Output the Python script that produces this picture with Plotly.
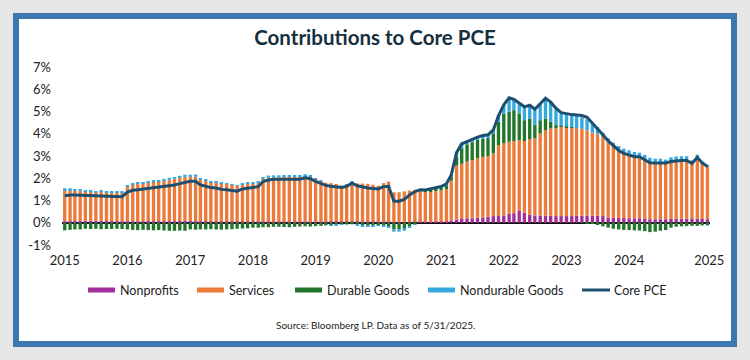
import pandas as pd
import plotly.graph_objects as go

months = pd.date_range(start="2015-01-01", periods=124, freq="MS")

nonprofits = [
    .06,.07,.07,.08,.09,.09,.09,.08,.08,.07,.06,.06,
    .06,.06,.05,.06,.07,.06,.06,.06,.06,.06,.08,.08,
    .07,.06,.06,.06,.05,.05,.05,.05,.05,.05,.05,.05,
    .05,.05,.05,.05,.04,.04,.04,.04,.04,.04,.04,.04,
    .04,.04,.04,.05,.05,.05,.05,.05,.05,.04,.04,.04,
    .04,.04,.04,.03,.03,.03,.03,.04,.04,.04,.04,.05,
    .05,.06,.10,.15,.20,.20,.20,.22,.22,.28,.30,.30,
    .32,.40,.43,.55,.45,.36,.33,.32,.32,.31,.30,.30,
    .30,.30,.31,.32,.32,.31,.31,.30,.24,.22,.21,.21,
    .20,.20,.20,.17,.16,.16,.16,.16,.17,.17,.18,.18,
    .17,.18,.17,.16,
]
services = [
    1.41,1.40,1.37,1.35,1.32,1.31,1.29,1.32,1.30,1.30,1.31,1.31,
    1.58,1.68,1.71,1.72,1.74,1.78,1.81,1.83,1.87,1.91,1.93,1.98,
    1.99,2.01,1.88,1.83,1.78,1.78,1.73,1.71,1.66,1.61,1.69,1.71,
    1.70,1.74,1.92,1.97,1.99,2.00,2.02,2.03,2.02,2.02,2.06,2.06,
    1.95,1.85,1.76,1.73,1.69,1.63,1.66,1.78,1.72,1.72,1.71,1.67,
    1.62,1.74,1.81,1.34,1.34,1.38,1.42,1.44,1.41,1.35,1.37,1.37,
    1.40,1.45,1.80,2.42,2.45,2.55,2.62,2.68,2.74,2.72,2.82,3.19,
    3.25,3.24,3.24,3.17,3.22,3.40,3.46,3.69,3.84,3.93,3.94,4.01,
    4.00,3.98,3.94,3.90,3.83,3.74,3.67,3.55,3.38,3.20,3.04,2.94,
    2.86,2.78,2.75,2.68,2.54,2.52,2.52,2.50,2.57,2.61,2.61,2.61,
    2.51,2.70,2.51,2.36,
]
durable_goods = [
    -.34,-.32,-.30,-.30,-.27,-.28,-.27,-.29,-.28,-.28,-.27,-.28,
    -.30,-.32,-.33,-.32,-.33,-.34,-.33,-.35,-.36,-.36,-.35,-.36,
    -.30,-.31,-.30,-.30,-.29,-.30,-.31,-.30,-.29,-.27,-.26,-.25,
    -.22,-.22,-.20,-.20,-.18,-.18,-.19,-.20,-.18,-.17,-.16,-.17,
    -.15,-.14,-.12,-.12,-.10,-.09,-.08,-.07,-.09,-.12,-.14,-.13,
    -.12,-.14,-.18,-.30,-.30,-.28,-.15,-.06,.03,.06,.08,.10,
    .12,.18,.15,.40,.70,.78,.80,.82,.82,.80,.90,1.05,
    1.34,1.35,1.39,1.19,.94,.93,.60,.60,.53,.30,.15,.05,
    .03,.02,.00,-.01,-.02,-.05,-.10,-.16,-.22,-.27,-.30,-.32,
    -.33,-.34,-.35,-.38,-.42,-.40,-.36,-.33,-.22,-.18,-.16,-.15,
    -.14,-.14,-.12,-.12,
]
nondurable_goods = [
    .08,.08,.07,.07,.06,.05,.05,.06,.05,.05,.05,.05,
    .04,.04,.05,.05,.06,.06,.06,.08,.09,.09,.10,.10,
    .10,.10,.06,.05,.04,.03,.03,.02,.02,.03,.04,.04,
    .04,.05,.08,.10,.10,.09,.07,.06,.06,.07,.08,.05,
    .02,.01,.00,-.02,-.02,-.01,.01,.02,-.02,-.04,-.05,-.04,
    -.02,-.02,-.03,-.10,-.10,-.08,-.05,-.02,.00,.02,.03,.04,
    .06,.06,.10,.18,.20,.12,.13,.13,.14,.15,.15,.29,
    .37,.63,.45,.45,.60,.59,.67,.75,.89,.89,.74,.56,
    .58,.56,.55,.52,.50,.42,.32,.20,.18,.18,.20,.18,
    .20,.20,.20,.20,.22,.20,.20,.18,.20,.20,.20,.20,
    .12,.18,.06,.04,
]
core_pce = [
    1.21,1.25,1.25,1.24,1.23,1.20,1.19,1.20,1.18,1.17,1.18,1.17,
    1.38,1.46,1.48,1.51,1.54,1.56,1.60,1.62,1.66,1.70,1.76,1.80,
    1.86,1.86,1.70,1.64,1.58,1.56,1.50,1.48,1.44,1.42,1.52,1.55,
    1.57,1.62,1.85,1.92,1.95,1.95,1.94,1.93,1.94,1.96,2.02,1.98,
    1.86,1.76,1.68,1.64,1.62,1.58,1.64,1.78,1.66,1.60,1.56,1.54,
    1.52,1.62,1.64,0.97,0.97,1.05,1.25,1.40,1.48,1.47,1.52,1.56,
    1.63,1.75,2.15,3.15,3.55,3.65,3.75,3.85,3.92,3.95,4.17,4.80,
    5.30,5.62,5.55,5.38,5.21,5.28,5.10,5.35,5.60,5.42,5.15,4.95,
    4.90,4.86,4.84,4.82,4.74,4.48,4.25,3.95,3.68,3.45,3.25,3.12,
    3.06,2.97,2.97,2.85,2.70,2.68,2.69,2.68,2.75,2.79,2.80,2.80,
    2.67,2.93,2.70,2.53,
]

y_tick_vals = [-1, 0, 1, 2, 3, 4, 5, 6, 7]
y_tick_text = ["-1%", "0%", "1%", "2%", "3%", "4%", "5%", "6%", "7%"]
x_tick_vals = ["2015-01-01", "2016-01-01", "2017-01-01", "2018-01-01", "2019-01-01",
               "2020-01-01", "2021-01-01", "2022-01-01", "2023-01-01", "2024-01-01",
               "2025-04-12"]
x_tick_text = ["2015", "2016", "2017", "2018", "2019", "2020", "2021", "2022",
               "2023", "2024", "2025"]

C_NP = "#a2309b"
C_SV = "#ec7b3b"
C_DG = "#22762a"
C_ND = "#35a8de"
C_LN = "#1d4f6e"
FONT = "Lato"

fig = go.Figure()
for name, vals, col in [("Nonprofits", nonprofits, C_NP), ("Services", services, C_SV),
                        ("Durable Goods", durable_goods, C_DG),
                        ("Nondurable Goods", nondurable_goods, C_ND)]:
    fig.add_trace(go.Bar(x=months, y=vals, name=name, marker_color=col,
                         marker_line_width=0, showlegend=False))
fig.add_trace(go.Scatter(x=months, y=core_pce, name="Core PCE", mode="lines",
                         line=dict(color=C_LN, width=3), showlegend=False))

L, R, T, B = 62, 40, 67, 115
W = 750 - L - R
H = 360 - T - B


def px(X):
    return (X - L) / W


def py(Y):
    return (360 - B - Y) / H


shapes = [
    dict(type="rect", xref="paper", yref="paper", x0=px(16), x1=px(734), y0=py(16), y1=py(344),
         fillcolor="white", line=dict(color="#3b76ae", width=6), layer="below"),
]
annotations = []
legend_items = [
    ("Nonprofits", C_NP, 88, "bar"),
    ("Services", C_SV, 197, "bar"),
    ("Durable Goods", C_DG, 295, "bar"),
    ("Nondurable Goods", C_ND, 428, "bar"),
    ("Core PCE", C_LN, 582, "line"),
]
LY = 290
for name, col, x0, kind in legend_items:
    if kind == "bar":
        shapes.append(dict(type="rect", xref="paper", yref="paper", x0=px(x0), x1=px(x0 + 27),
                           y0=py(LY + 2.5), y1=py(LY - 2.5), fillcolor=col, line=dict(width=0)))
    else:
        shapes.append(dict(type="line", xref="paper", yref="paper", x0=px(x0), x1=px(x0 + 28),
                           y0=py(LY), y1=py(LY), line=dict(color=col, width=3)))
    annotations.append(dict(text=name, xref="paper", yref="paper", x=px(x0 + 30), y=py(LY),
                            xanchor="left", yanchor="middle", showarrow=False,
                            font=dict(family=FONT, size=12.5, color="#222")))
annotations.append(dict(text="Source: Bloomberg LP. Data as of 5/31/2025.", xref="paper", yref="paper",
                        x=px(375), y=py(325), xanchor="center", yanchor="middle", showarrow=False,
                        font=dict(family=FONT, size=10, color="#222")))

fig.update_layout(
    width=750, height=360,
    margin=dict(l=L, r=R, t=T, b=B, autoexpand=False),
    paper_bgcolor="#e6e6e6", plot_bgcolor="rgba(0,0,0,0)",
    barmode="relative", bargap=0.3,
    title=dict(text="Contributions to Core PCE", x=0.5, xref="container", xanchor="center",
               y=1 - 38 / 360, yanchor="middle",
               font=dict(family=FONT, size=20.5, color="#152f3e", weight="bold")),
    xaxis=dict(type="date", range=["2014-12-16", "2025-04-16"], tickvals=x_tick_vals,
               ticktext=x_tick_text, showgrid=False, showline=False, zeroline=False,
               ticks="", ticklabelstandoff=6,
               tickfont=dict(family=FONT, size=13, color="#222")),
    yaxis=dict(range=[-1, 7], tickvals=y_tick_vals, ticktext=y_tick_text, showgrid=False,
               showline=False, zeroline=True, zerolinecolor="#111", zerolinewidth=1.5,
               ticks="", ticklabelstandoff=10,
               tickfont=dict(family=FONT, size=13, color="#222")),
    shapes=shapes, annotations=annotations, showlegend=False,
)

fig.write_html("out.html", config={"displayModeBar": False},
               post_script="document.body.style.margin='0px';")
